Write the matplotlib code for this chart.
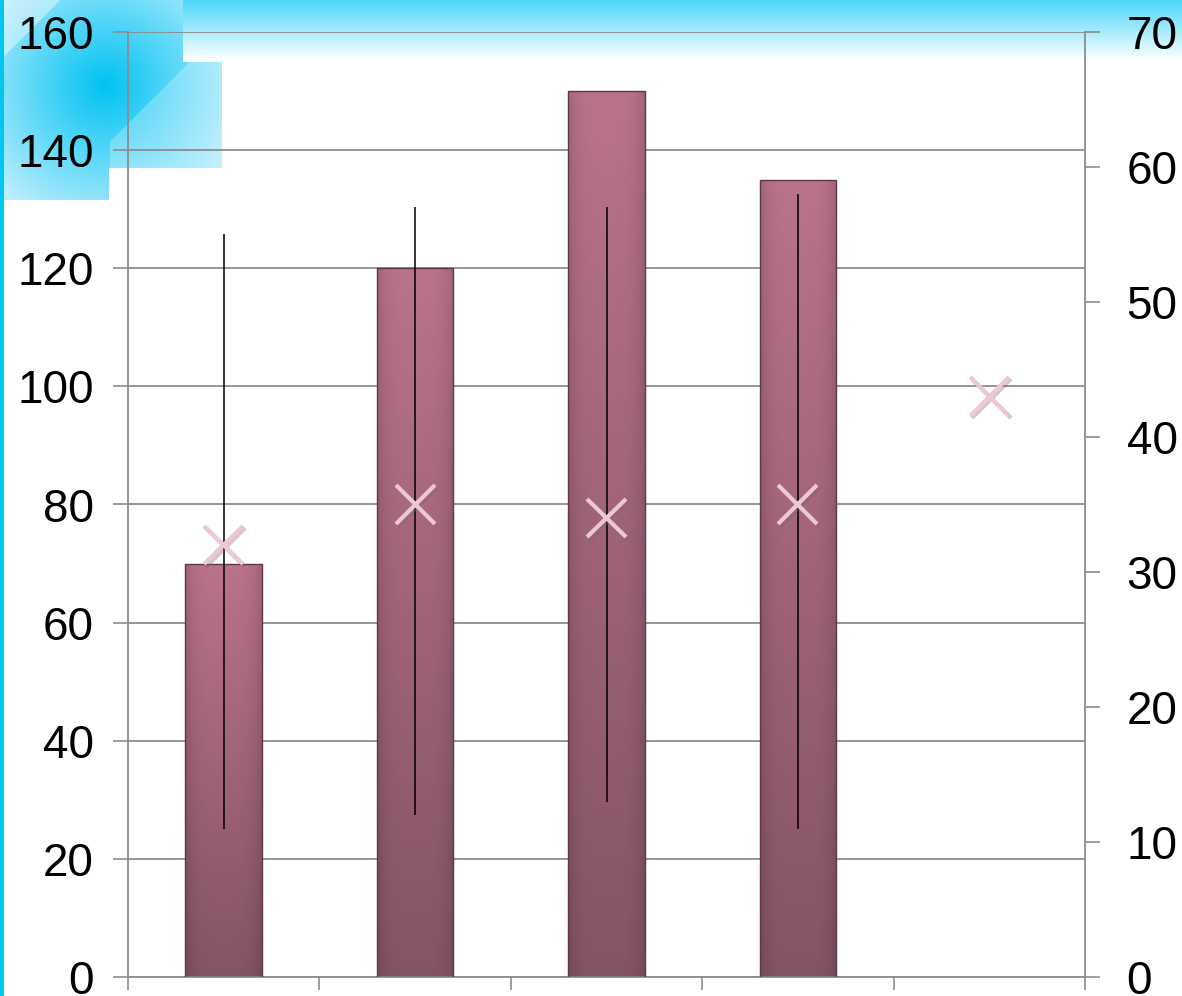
import numpy as np
import matplotlib
matplotlib.use("Agg")
import matplotlib.pyplot as plt
import matplotlib.patheffects as pe

plt.rcParams['font.family'] = ['Liberation Sans', 'DejaVu Sans']

# данные (объём - левая ось, максимум/минимум/закрытие - правая ось)
categories = [1, 2, 3, 4, 5]
volume = [70, 120, 150, 135]
high = [55, 57, 57, 58]
low = [11, 12, 13, 11]
close = [32, 35, 34, 35, 43]
left_ticks = [0, 20, 40, 60, 80, 100, 120, 140, 160]
right_ticks = [0, 10, 20, 30, 40, 50, 60, 70]

W, H = 1182, 996
fig = plt.figure(figsize=(W / 100, H / 100), dpi=100)
fig.patch.set_facecolor('white')

# фон слайда: голубые декоративные элементы
bg = fig.add_axes([0, 0, 1, 1], zorder=-5)
bg.set_xlim(0, W)
bg.set_ylim(H, 0)
bg.axis('off')
yy, xx = np.mgrid[0:H, 0:W]
img = np.ones((H, W, 4))
img[..., 3] = 0.0

cyan = np.array([0.0, 0.76, 0.95])
light = np.array([0.80, 0.95, 1.0])
band = (xx >= 183) & (yy < 62)
t = np.clip(yy / 60.0, 0, 1)[..., None]
col = np.array([0.30, 0.84, 0.98]) * (1 - t) + np.array([1.0, 1.0, 1.0]) * t
img[band, :3] = col[band]
img[band, 3] = 1.0

block = ((xx < 183) & (yy < 62)) | ((xx < 222) & (yy >= 62) & (yy < 168)) | ((xx < 109) & (yy >= 168) & (yy < 200))
d = np.sqrt((xx - 105) ** 2 + (yy - 85) ** 2)
t2 = np.clip(d / 160.0, 0, 1)[..., None]
col2 = cyan * (1 - t2) + light * t2
img[block, :3] = col2[block]
img[block, 3] = 1.0
# светлые скошенные углы
tri = block & (xx + yy < 60)
img[tri, :3] = img[tri, :3] * 0.6 + 0.4
cut = block & (xx > 109) & (xx + yy > 250)
img[cut, :3] = img[cut, :3] * 0.75 + 0.25
edge = xx < 4
img[edge, :3] = [0.0, 0.78, 0.95]
img[edge, 3] = 1.0
bg.imshow(img, extent=[0, W, H, 0], aspect='auto', interpolation='bilinear')

# основные оси
ax = fig.add_axes([128 / W, 1 - 977 / H, (1085 - 128) / W, (977 - 32) / H])
ax.set_facecolor('none')
ax2 = ax.twinx()
ax2.set_facecolor('none')

grey = '#8c8c8c'
bars = ax.bar(categories[:len(volume)], volume, width=0.4, color='none',
              edgecolor='#5e3848', linewidth=1.0, zorder=3)
top_c = np.array([0.73, 0.45, 0.55])
bot_c = np.array([0.52, 0.33, 0.40])
for b in bars:
    x0 = b.get_x()
    w = b.get_width()
    h = b.get_height()
    g = np.linspace(0, 1, 100)[:, None]
    grad = top_c * (1 - g[..., None]) + bot_c * g[..., None]
    grad = np.repeat(grad, 20, axis=1)
    # затемнение по краям (фаска)
    sx = np.linspace(0, 1, 20)
    shade = 1 - 0.12 * (np.abs(sx - 0.5) * 2) ** 4
    grad = grad * shade[None, :, None]
    im = ax.imshow(grad, extent=[x0, x0 + w, 0, h], aspect='auto',
                   origin='upper', zorder=2, interpolation='bilinear')
    im.set_clip_path(b)

ax.set_xlim(0.5, 5.5)
ax.set_ylim(0, 160)
ax.set_yticks(left_ticks)
ax.set_xticks([0.5, 1.5, 2.5, 3.5, 4.5, 5.5])
ax.set_xticklabels([])
ax.grid(axis='y', color=grey, linewidth=1.3)
ax.set_axisbelow(True)
ax.tick_params(axis='y', direction='out', length=11, width=1.2, color=grey,
               labelsize=33, pad=13.5)
ax.tick_params(axis='x', direction='out', length=9.5, width=1.2, color=grey)
for s in ['top', 'right']:
    ax.spines[s].set_visible(False)
for s in ['left', 'bottom']:
    ax.spines[s].set_color(grey)
    ax.spines[s].set_linewidth(1.3)

# правая ось: линии максимум-минимум и закрытие
ax2.vlines(categories[:len(high)], low, high, color='black', linewidth=1.1, zorder=4)
ax2.plot(categories, close, linestyle='none', marker='x', markersize=28,
         markeredgewidth=3, color='#ecc8d4', zorder=5,
         path_effects=[pe.SimpleLineShadow(offset=(1.5, -1.5), alpha=0.35, shadow_color='#806070'),
                       pe.Normal()])
ax2.set_ylim(0, 70)
ax2.set_yticks(right_ticks)
ax2.tick_params(axis='y', direction='out', length=11, width=1.2, color=grey,
                labelsize=33, pad=19)
for s in ['top', 'left', 'bottom']:
    ax2.spines[s].set_visible(False)
ax2.spines['right'].set_color(grey)
ax2.spines['right'].set_linewidth(1.3)

fig.savefig('out.png', dpi=100)
